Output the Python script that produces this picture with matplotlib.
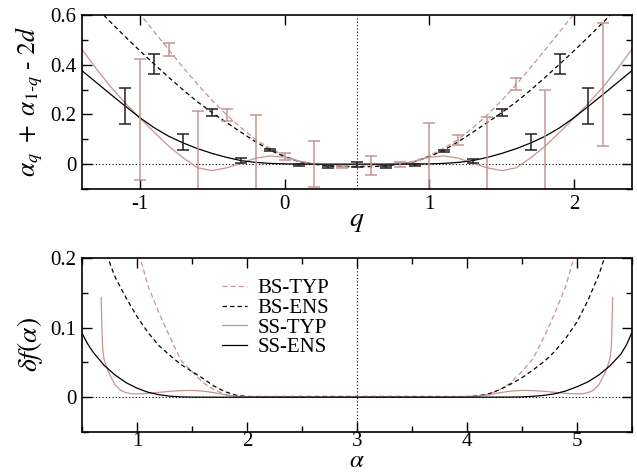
import numpy as np
import matplotlib
matplotlib.use("Agg")
import matplotlib.pyplot as plt
from matplotlib.ticker import MultipleLocator

plt.rcParams['font.family'] = ['Liberation Serif', 'DejaVu Serif']
plt.rcParams['mathtext.fontset'] = 'stix'
plt.rcParams['axes.unicode_minus'] = False

PINK = '#c49494'

## ---- upper panel: alpha_q + alpha_{1-q} - 2d versus q ---- ##
q = np.round(np.arange(-1.4, 2.41, 0.1), 1)

bs_typ_q = [0.916, 0.836, 0.757, 0.680, 0.605, 0.532, 0.460, 0.388, 0.320, 0.256,
            0.198, 0.146, 0.099, 0.064, 0.034, 0.012, 0.001, -0.004, -0.007, -0.008,
            -0.007, -0.004, 0.001, 0.012, 0.034, 0.064, 0.099, 0.146, 0.198, 0.256,
            0.320, 0.388, 0.460, 0.532, 0.605, 0.680, 0.757, 0.836, 0.916]
bs_ens_q = [0.690, 0.630, 0.570, 0.512, 0.456, 0.402, 0.349, 0.298, 0.250, 0.207,
            0.167, 0.128, 0.090, 0.056, 0.030, 0.010, 0.000, -0.007, -0.010, -0.011,
            -0.010, -0.007, 0.000, 0.010, 0.030, 0.056, 0.090, 0.128, 0.167, 0.207,
            0.250, 0.298, 0.349, 0.402, 0.456, 0.512, 0.570, 0.630, 0.690]
ss_typ_q = [0.462, 0.383, 0.310, 0.245, 0.185, 0.128, 0.072, 0.025, -0.015, -0.026,
            -0.015, 0.004, 0.024, 0.033, 0.028, 0.012, 0.001, -0.002, -0.002, -0.002,
            -0.002, -0.002, 0.001, 0.012, 0.028, 0.033, 0.024, 0.004, -0.015, -0.026,
            -0.015, 0.025, 0.072, 0.128, 0.185, 0.245, 0.310, 0.383, 0.462]
ss_ens_q = [0.376, 0.328, 0.280, 0.233, 0.187, 0.146, 0.112, 0.085, 0.062, 0.043,
            0.027, 0.014, 0.007, 0.003, 0.001, 0.0005, 0.0, 0.0, 0.0, 0.0,
            0.0, 0.0, 0.0, 0.0005, 0.001, 0.003, 0.007, 0.014, 0.027, 0.043,
            0.062, 0.085, 0.112, 0.146, 0.187, 0.233, 0.280, 0.328, 0.376]

# ensemble averages with error bars
ens_q = [-1.1, -0.9, -0.7, -0.5, -0.3, -0.1, 0.1, 0.3, 0.5, 0.7, 0.9, 1.1, 1.3, 1.5, 1.7, 1.9, 2.1]
ens_val = [0.233, 0.403, 0.088, 0.208, 0.014, 0.056, -0.003, -0.011, -0.003, -0.011,
           -0.003, 0.054, 0.012, 0.207, 0.088, 0.402, 0.233]
ens_err = [0.072, 0.039, 0.032, 0.015, 0.011, 0.004, 0.003, 0.003, 0.010, 0.003,
           0.003, 0.004, 0.009, 0.014, 0.032, 0.040, 0.072]

# typical averages with error bars
typ_q = [-1.0, -0.8, -0.6, -0.4, -0.2, 0.0, 0.2, 0.4, 0.6, 0.8, 1.0, 1.2, 1.4, 1.6, 1.8, 2.2]
typ_val = [0.180, 0.462, -0.020, 0.197, 0.000, 0.032, 0.001, -0.010, -0.004, -0.002,
           0.020, 0.096, -0.010, 0.322, 0.000, 0.320]
typ_err = [0.243, 0.027, 0.235, 0.023, 0.197, 0.014, 0.092, 0.004, 0.038, 0.009,
           0.146, 0.020, 0.200, 0.024, 0.298, 0.249]

## ---- lower panel: delta f(alpha) ---- ##
a_bs_typ = [1.0, 1.1, 1.2, 1.3, 1.4, 1.5, 1.6, 1.7, 1.8, 1.9, 2.0, 2.5, 3.0, 3.5, 4.0,
            4.1, 4.2, 4.3, 4.4, 4.5, 4.6, 4.7, 4.8, 4.9, 5.0]
bs_typ_a = [0.217, 0.160, 0.121, 0.086, 0.053, 0.037, 0.021, 0.011, 0.004, 0.0015, 0.001,
            0.0015, 0.0015, 0.0015, 0.001, 0.0015, 0.004, 0.011, 0.021, 0.037, 0.055,
            0.086, 0.121, 0.160, 0.217]

a_bs_ens = [0.7, 0.75, 0.8, 0.9, 1.0, 1.1, 1.2, 1.3, 1.4, 1.5, 1.6, 1.7, 1.8, 1.9, 2.0,
            2.5, 3.0, 3.5, 4.0, 4.1, 4.2, 4.3, 4.4, 4.5, 4.6, 4.7, 4.8, 4.9, 5.0, 5.1,
            5.2, 5.3]
bs_ens_a = [0.215, 0.194, 0.173, 0.143, 0.116, 0.093, 0.074, 0.060, 0.047, 0.037, 0.027,
            0.016, 0.008, 0.003, 0.001, 0.0005, 0.0005, 0.0005, 0.001, 0.002, 0.005,
            0.011, 0.019, 0.028, 0.039, 0.051, 0.066, 0.085, 0.108, 0.139, 0.176, 0.224]

a_ss_typ = [0.675, 0.678, 0.682, 0.688, 0.70, 0.72, 0.74, 0.77, 0.80, 0.85, 0.9, 0.95,
            1.0, 1.1, 1.2, 1.3, 1.4, 1.5, 1.6, 1.7, 1.8, 1.9, 2.0, 2.5, 3.0, 3.5, 4.0,
            4.1, 4.2, 4.3, 4.4, 4.5, 4.6, 4.7, 4.8, 4.9, 5.0, 5.05, 5.1, 5.15, 5.2,
            5.23, 5.26, 5.28, 5.30, 5.312, 5.318, 5.322, 5.325]
ss_typ_a = [0.143, 0.120, 0.095, 0.070, 0.055, 0.045, 0.037, 0.027, 0.018, 0.010, 0.0065,
            0.005, 0.0048, 0.0055, 0.007, 0.0085, 0.0095, 0.0098, 0.0088, 0.0065, 0.0035,
            0.0015, 0.0007, 0.0005, 0.0005, 0.0005, 0.0007, 0.0015, 0.0035, 0.0065,
            0.0088, 0.0098, 0.0095, 0.0085, 0.007, 0.0055, 0.0048, 0.005, 0.0065, 0.010,
            0.018, 0.027, 0.037, 0.045, 0.055, 0.070, 0.095, 0.120, 0.143]

a_ss_ens = [0.5, 0.55, 0.6, 0.7, 0.8, 0.9, 1.0, 1.1, 1.2, 1.3, 1.4, 1.5, 2.0, 3.0, 4.0,
            4.4, 4.5, 4.6, 4.7, 4.8, 4.9, 5.0, 5.1, 5.2, 5.3, 5.4, 5.45, 5.5]
ss_ens_a = [0.092, 0.077, 0.065, 0.046, 0.032, 0.021, 0.013, 0.0072, 0.0035, 0.0015,
            0.0005, 0.0001, 0.0, 0.0, 0.0, 0.0002, 0.0005, 0.0013, 0.0027, 0.005, 0.009,
            0.015, 0.022, 0.032, 0.045, 0.062, 0.075, 0.093]

fig = plt.figure(figsize=(6.37, 4.72), dpi=100)
ax1 = fig.add_axes([0.1287, 0.5996, 0.8633, 0.3686])
ax2 = fig.add_axes([0.1287, 0.0847, 0.8633, 0.3687])

lw = 0.9
ax1.axhline(0, color='black', lw=0.8, ls=(0, (1, 2)), zorder=1)
ax1.axvline(0.5, color='black', lw=0.8, ls=(0, (1, 2)), zorder=1)
ax1.plot(q, bs_typ_q, color=PINK, lw=lw, ls=(0, (4, 2.5)))
ax1.plot(q, bs_ens_q, color='black', lw=lw, ls=(0, (3.5, 2.5)))
ax1.plot(q, ss_typ_q, color=PINK, lw=lw)
ax1.plot(q, ss_ens_q, color='black', lw=lw)
ax1.errorbar(typ_q, typ_val, yerr=typ_err, fmt='none', ecolor=PINK, elinewidth=1.1,
             capsize=4.5, capthick=1.1)
ax1.errorbar(ens_q, ens_val, yerr=ens_err, fmt='none', ecolor='#202020', elinewidth=1.1,
             capsize=4.5, capthick=1.1)

ax1.set_xlim(-1.4, 2.4)
ax1.set_ylim(-0.1, 0.6)
ax1.xaxis.set_major_locator(MultipleLocator(1))
ax1.yaxis.set_minor_locator(MultipleLocator(0.1))
ax1.set_yticks([0, 0.2, 0.4, 0.6], ['0', '0.2', '0.4', '0.6'])
ax1.set_xlabel('$q$', fontsize=20, labelpad=-3)
ax1.set_ylabel(r'$\alpha_q\ +\ \alpha_{1\text{-}q}\ \text{-}\ 2d$', fontsize=18.5, labelpad=4)

ax2.axhline(0, color='black', lw=0.8, ls=(0, (1, 2)), zorder=1)
ax2.axvline(3, color='black', lw=0.8, ls=(0, (1, 2)), zorder=1)
ax2.plot(a_bs_typ, bs_typ_a, color=PINK, lw=lw, ls=(0, (4, 2.5)), label='BS-TYP')
ax2.plot(a_bs_ens, bs_ens_a, color='black', lw=lw, ls=(0, (3.5, 2.5)), label='BS-ENS')
ax2.plot(a_ss_typ, ss_typ_a, color=PINK, lw=lw, label='SS-TYP')
ax2.plot(a_ss_ens, ss_ens_a, color='black', lw=lw, label='SS-ENS')

ax2.set_xlim(0.5, 5.5)
ax2.set_ylim(-0.05, 0.2)
ax2.xaxis.set_major_locator(MultipleLocator(1))
ax2.xaxis.set_minor_locator(MultipleLocator(0.5))
ax2.yaxis.set_minor_locator(MultipleLocator(0.05))
ax2.set_yticks([0, 0.1, 0.2], ['0', '0.1', '0.2'])
ax2.set_xlabel(r'$\alpha$', fontsize=18, labelpad=-1)
ax2.set_ylabel(r'$\delta f(\alpha)$', fontsize=20, labelpad=4)
ax2.legend(loc='upper left', bbox_to_anchor=(0.255, 0.88), frameon=False, fontsize=15,
           handlelength=1.2, handletextpad=0.5, labelspacing=0.0, borderaxespad=0,
           borderpad=0)

for ax in (ax1, ax2):
    ax.tick_params(which='both', direction='in', top=True, right=True, labelsize=15,
                   width=1)
    ax.tick_params(which='major', length=7)
    ax.tick_params(which='minor', length=4)
    ax.tick_params(axis='x', pad=4)
    ax.tick_params(axis='y', pad=4)
    for s in ax.spines.values():
        s.set_linewidth(1.2)
ax2.tick_params(axis='x', pad=0)

fig.savefig('out.png', dpi=100)
